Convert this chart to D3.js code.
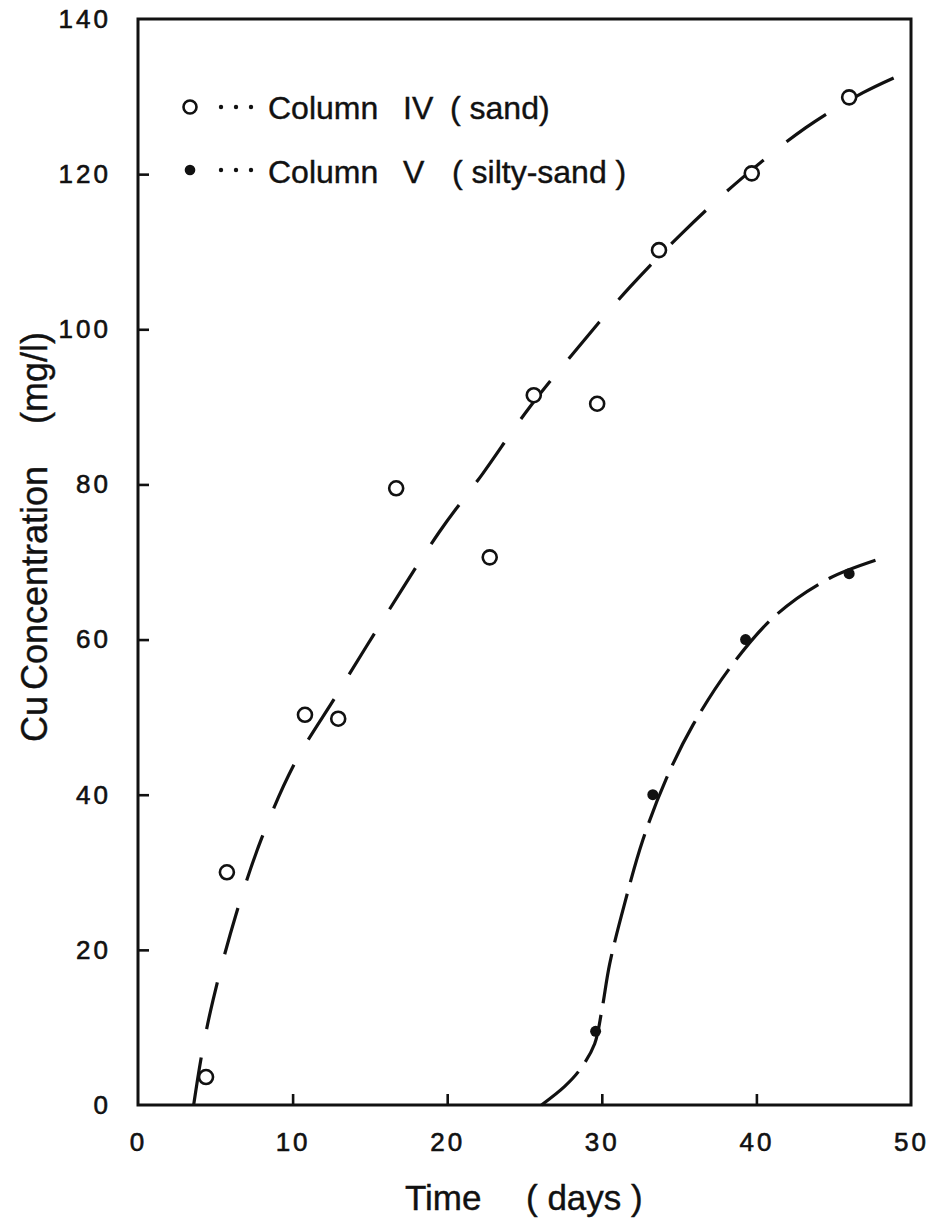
<!DOCTYPE html>
<html>
<head>
<meta charset="utf-8">
<script src="https://cdn.jsdelivr.net/npm/d3@7"></script>
<style>
  body { margin: 0; background: #fff; }
  text { font-family: "Liberation Sans", Arial, sans-serif; fill: #111; }
</style>
</head>
<body>
<svg id="chart" width="935" height="1220"></svg>
<script>
// Axis ticks
const xTicks = [0, 10, 20, 30, 40, 50];
const yTicks = [0, 20, 40, 60, 80, 100, 120, 140];

// Column IV (sand): measured Cu concentration
const sandDays = [4.4, 5.75, 10.8, 12.95, 16.7, 22.75, 25.6, 29.7, 33.7, 39.7, 46.0];
const sandCu   = [3.6, 30.0, 50.3, 49.8, 79.5, 70.6, 91.5, 90.4, 110.2, 120.1, 129.9];

// Column V (silty-sand): measured Cu concentration
const siltDays = [29.6, 33.3, 39.3, 46.0];
const siltCu   = [9.5, 40.0, 60.0, 68.5];

// Hand-fitted breakthrough curves
const sandFitDays = [3.6, 4.14, 4.85, 6.33, 8.0, 10.15, 12.8, 14.8, 19.5, 22.3, 25.2, 28.4, 31.8, 35.2, 38.9, 43.2, 46.9, 49.1];
const sandFitCu   = [0, 6.7, 13.5, 24.5, 34.4, 44.1, 52.7, 59.2, 73.9, 81.4, 89.6, 97.5, 105.4, 112.4, 119.2, 126.0, 130.5, 132.6];
const siltFitDays = [26.1, 27.6, 28.6, 29.54, 30.0, 30.51, 31.48, 32.66, 34.18, 35.9, 38.38, 41.29, 44.73, 48.29];
const siltFitCu   = [0, 2.4, 4.6, 7.9, 12.2, 18.2, 26.0, 34.2, 42.1, 49.0, 56.6, 63.2, 67.9, 70.6];

const svg = d3.select("#chart");
const plotLeft = 138, plotRight = 911, plotTop = 19, plotBottom = 1105;

const x = d3.scaleLinear().domain([0, 50]).range([plotLeft, plotRight]);
const y = d3.scaleLinear().domain([0, 140]).range([plotBottom, plotTop]);

// Axes with inward ticks
const xAxis = svg.append("g")
  .attr("transform", `translate(0,${plotBottom})`)
  .call(d3.axisBottom(x).tickValues(xTicks).tickSize(-11).tickPadding(28).tickFormat(d3.format("d")));
const yAxis = svg.append("g")
  .attr("transform", `translate(${plotLeft},0)`)
  .call(d3.axisLeft(y).tickValues(yTicks).tickSize(-11).tickPadding(27).tickFormat(d3.format("d")));

[xAxis, yAxis].forEach(g => {
  g.select(".domain").remove();
  g.selectAll(".tick line").attr("stroke", "#111").attr("stroke-width", 2.6);
  g.selectAll(".tick text")
    .style("font-family", "'Liberation Sans', Arial, sans-serif")
    .style("font-size", "26px")
    .style("letter-spacing", "3px")
    .attr("fill", "#111")
    .attr("stroke", "#111").attr("stroke-width", 0.6);
});
// corner ticks coincide with the frame
yAxis.selectAll(".tick").filter(d => d === 140 || d === 0).select("line").remove();
xAxis.selectAll(".tick").filter(d => d === 0 || d === 50).select("line").remove();

// Plot frame
svg.append("rect")
  .attr("x", plotLeft).attr("y", plotTop)
  .attr("width", plotRight - plotLeft).attr("height", plotBottom - plotTop)
  .attr("fill", "none").attr("stroke", "#111").attr("stroke-width", 3);

// Fitted curves
const line = d3.line().x(d => x(d[0])).y(d => y(d[1])).curve(d3.curveCatmullRom.alpha(0.5));
svg.append("path")
  .datum(sandFitDays.map((d, i) => [d, sandFitCu[i]]))
  .attr("d", line)
  .attr("fill", "none").attr("stroke", "#111").attr("stroke-width", 3.2)
  .attr("stroke-dasharray", "48 29");
svg.append("path")
  .datum(siltFitDays.map((d, i) => [d, siltFitCu[i]]))
  .attr("d", line)
  .attr("fill", "none").attr("stroke", "#111").attr("stroke-width", 3.2)
  .attr("stroke-dasharray", "50 12");

// Data points
svg.append("g").selectAll("circle")
  .data(sandDays.map((d, i) => [d, sandCu[i]]))
  .join("circle")
  .attr("cx", d => x(d[0])).attr("cy", d => y(d[1])).attr("r", 7)
  .attr("fill", "#fff").attr("stroke", "#111").attr("stroke-width", 2.6);
svg.append("g").selectAll("circle")
  .data(siltDays.map((d, i) => [d, siltCu[i]]))
  .join("circle")
  .attr("cx", d => x(d[0])).attr("cy", d => y(d[1])).attr("r", 5.5)
  .attr("fill", "#111");

// Legend
const legend = svg.append("g");
const rows = [
  { cy: 107, base: 119, open: true,  words: [["Column", 268], ["IV", 403], ["( sand)", 450]] },
  { cy: 170, base: 183, open: false, words: [["Column", 268], ["V", 403], ["( silty-sand )", 452]] }
];
rows.forEach(r => {
  const m = legend.append("circle").attr("cx", 190).attr("cy", r.cy);
  if (r.open) m.attr("r", 6.5).attr("fill", "#fff").attr("stroke", "#111").attr("stroke-width", 2.6);
  else m.attr("r", 5.3).attr("fill", "#111");
  [221, 236, 251].forEach(cx =>
    legend.append("circle").attr("cx", cx).attr("cy", r.cy).attr("r", 2.2).attr("fill", "#111"));
  const t = legend.append("text").attr("y", r.base).style("font-size", "32px")
    .attr("stroke", "#111").attr("stroke-width", 0.4);
  r.words.forEach(([w, px]) => t.append("tspan").attr("x", px).text(w));
});

// Axis titles
const xt = svg.append("text").attr("y", 1210).style("font-size", "35px")
  .attr("stroke", "#111").attr("stroke-width", 0.4);
xt.append("tspan").attr("x", 405).text("Time");
xt.append("tspan").attr("x", 526).text("( days )");

const yt = svg.append("text").attr("transform", "rotate(-90)").attr("y", 47).style("font-size", "36px")
  .attr("stroke", "#111").attr("stroke-width", 0.4);
yt.append("tspan").attr("x", -742).text("Cu");
yt.append("tspan").attr("x", -690).text("Concentration");
yt.append("tspan").attr("x", -424).text("(mg/l)");
</script>
</body>
</html>
